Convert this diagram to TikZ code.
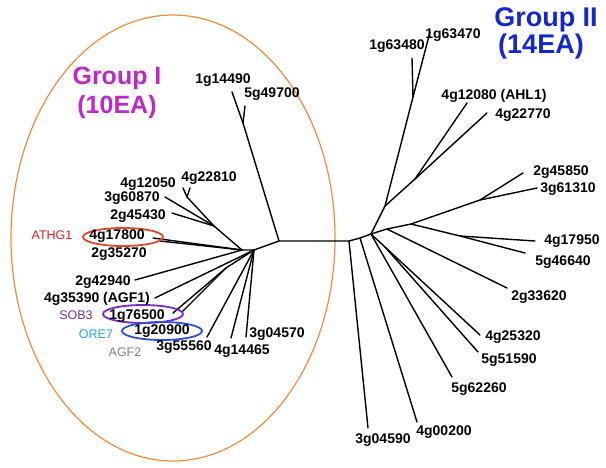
\documentclass[tikz,border=0pt]{standalone}
\usepackage{fontspec}
\setmainfont{Liberation Sans}
\definecolor{grpone}{RGB}{190,40,200}
\definecolor{grptwo}{RGB}{20,40,210}
\definecolor{hull}{RGB}{240,140,60}
\definecolor{athg}{RGB}{220,30,30}
\definecolor{athgring}{RGB}{230,70,40}
\definecolor{sob}{RGB}{110,50,160}
\definecolor{sobring}{RGB}{120,40,200}
\definecolor{ore}{RGB}{30,170,220}
\definecolor{orering}{RGB}{40,80,220}
\definecolor{agf}{RGB}{130,130,130}
\begin{document}
\begin{tikzpicture}[x=1pt,y=-1pt,
  branch/.style={line width=1.4pt, line cap=round, line join=round},
  gene/.style={font=\fontsize{14}{15}\selectfont\bfseries, inner sep=0pt},
  tag/.style={font=\fontsize{12.5}{13}\selectfont, inner sep=0pt},
  grp/.style={font=\fontsize{25}{28}\selectfont\bfseries, inner sep=0pt},
  grpbig/.style={font=\fontsize{27}{30}\selectfont\bfseries, inner sep=0pt},
  ring/.style={line width=1.8pt}]
\useasboundingbox (0,0) rectangle (606,467);
\fill[white] (0,0) rectangle (606,467);

% group outline
\draw[hull, line width=1.2pt] (173,238) ellipse [x radius=162, y radius=223];

% ---- tree points, left part
\coordinate (L0) at (279,241);
\coordinate (L1) at (254,250);
\coordinate (L2) at (242,250);
\coordinate (A) at (243,123);
\coordinate (t1g14490) at (232,92);
\coordinate (t5g49700) at (245,106);
\coordinate (F) at (187,197);
\coordinate (t4g12050) at (183,188);
\coordinate (t4g22810) at (190,188);
\coordinate (U) at (214,226);
\coordinate (t3g60870) at (165,197);
\coordinate (t2g45430) at (172,213);
\coordinate (t4g17800) at (153,238);
\coordinate (t2g35270) at (160,241);
\coordinate (t2g42940) at (135,280);
\coordinate (t4g35390) at (155,298);
\coordinate (K) at (226,268);
\coordinate (t1g76500) at (173,313);
\coordinate (t1g20900) at (182,312);
\coordinate (t3g55560) at (207,337);
\coordinate (t4g14465) at (231,338);
\coordinate (t3g04570) at (246,337);

% ---- tree points, right part
\coordinate (C1) at (349,241);
\coordinate (C2) at (360,238);
\coordinate (R0) at (371,234);
\coordinate (t3g04590) at (368,428);
\coordinate (t4g00200) at (417,422);
\coordinate (t5g62260) at (452,377);
\coordinate (P) at (385,247);
\coordinate (t4g25320) at (480,335);
\coordinate (t5g51590) at (478,352);
\coordinate (M) at (387,229);
\coordinate (t2g33620) at (507,288);
\coordinate (N) at (411,224);
\coordinate (Q) at (480,200);
\coordinate (t2g45850) at (523,173);
\coordinate (t3g61310) at (537,188);
\coordinate (S) at (460,236);
\coordinate (t4g17950) at (535,241);
\coordinate (t5g46640) at (525,253);
\coordinate (T) at (385,206);
\coordinate (V) at (413,97);
\coordinate (t1g63470) at (430,32);
\coordinate (t1g63480) at (412,58);
\coordinate (W) at (415,179);
\coordinate (t4g22770) at (487,113);
\coordinate (t4g12080) at (467,103);

% ---- branches
\draw[branch] (L0) -- (C1) -- (C2) -- (R0);
\draw[branch] (L0) -- (A) -- (t1g14490);
\draw[branch] (A) -- (t5g49700);
\draw[branch] (L0) -- (L1) -- (L2);
\draw[branch] (L2) -- (U) -- (F) -- (t4g12050);
\draw[branch] (F) -- (t4g22810);
\draw[branch] (U) -- (t3g60870);
\draw[branch] (U) -- (t2g45430);
\draw[branch] (L2) -- (t4g17800);
\draw[branch] (L2) -- (t2g35270);
\draw[branch] (L2) -- (t2g42940);
\draw[branch] (L1) -- (t4g35390);
\draw[branch] (L1) -- (K) -- (t1g76500);
\draw[branch] (K) -- (t1g20900);
\draw[branch] (L1) -- (t3g55560);
\draw[branch] (L1) -- (t4g14465);
\draw[branch] (L1) -- (t3g04570);

\draw[branch] (C1) -- (t3g04590);
\draw[branch] (C2) -- (t4g00200);
\draw[branch] (R0) -- (t5g62260);
\draw[branch] (R0) -- (P) -- (t4g25320);
\draw[branch] (P) -- (t5g51590);
\draw[branch] (R0) -- (M) -- (t2g33620);
\draw[branch] (M) -- (N) -- (Q) -- (t2g45850);
\draw[branch] (Q) -- (t3g61310);
\draw[branch] (N) -- (S) -- (t5g46640);
\draw[branch] (S) -- (t4g17950);
\draw[branch] (R0) -- (T) -- (V) -- (t1g63470);
\draw[branch] (V) -- (t1g63480);
\draw[branch] (T) -- (W) -- (t4g22770);
\draw[branch] (W) -- (t4g12080);

% ---- highlighted genes
\draw[ring, athgring] (123,237) ellipse [x radius=40, y radius=9];
\draw[ring, sobring] (143,314) ellipse [x radius=40, y radius=9];
\draw[ring, orering] (162,331) ellipse [x radius=40, y radius=9];

% ---- group titles
\node[grp, text=grpone] (g1a) at (117,78) {Group I};
\node[grp, text=grpone] (g1b) at (117,107) {(10EA)};
\node[grpbig, text=grptwo] (g2a) at (546,20) {Group II};
\node[grpbig, text=grptwo] (g2b) at (541,47) {(14EA)};

% ---- gene labels, left
\node[gene] (n1g14490) at (223,80) {1g14490};
\node[gene] (n5g49700) at (272,94) {5g49700};
\node[gene] (n4g12050) at (148,184) {4g12050};
\node[gene] (n4g22810) at (209,178) {4g22810};
\node[gene] (n3g60870) at (132,198) {3g60870};
\node[gene] (n2g45430) at (138,216) {2g45430};
\node[gene] (n4g17800) at (117,236) {4g17800};
\node[gene] (n2g35270) at (119,254) {2g35270};
\node[gene] (n2g42940) at (103,282) {2g42940};
\node[gene] (n4g35390) at (97,299) {4g35390 (AGF1)};
\node[gene] (n1g76500) at (137,316) {1g76500};
\node[gene] (n1g20900) at (162,331) {1g20900};
\node[gene] (n3g55560) at (184,347) {3g55560};
\node[gene] (n4g14465) at (242,351) {4g14465};
\node[gene] (n3g04570) at (277,334) {3g04570};

% ---- gene labels, right
\node[gene] (n1g63480) at (397,46) {1g63480};
\node[gene] (n1g63470) at (453,35) {1g63470};
\node[gene] (n4g12080) at (494,96) {4g12080 (AHL1)};
\node[gene] (n4g22770) at (523,115) {4g22770};
\node[gene] (n2g45850) at (561,172) {2g45850};
\node[gene] (n3g61310) at (568,189) {3g61310};
\node[gene] (n4g17950) at (572,241) {4g17950};
\node[gene] (n5g46640) at (563,262) {5g46640};
\node[gene] (n2g33620) at (539,297) {2g33620};
\node[gene] (n4g25320) at (513,337) {4g25320};
\node[gene] (n5g51590) at (509,360) {5g51590};
\node[gene] (n5g62260) at (479,389) {5g62260};
\node[gene] (n3g04590) at (383,440) {3g04590};
\node[gene] (n4g00200) at (444,432) {4g00200};

% ---- gene names
\node[tag, text=athg] (athg1) at (52,235) {ATHG1};
\node[tag, text=sob] (sob3) at (76,315) {SOB3};
\node[tag, text=ore] (ore7) at (96,334) {ORE7};
\node[tag, text=agf] (agf2) at (125,352) {AGF2};
\end{tikzpicture}
\end{document}
